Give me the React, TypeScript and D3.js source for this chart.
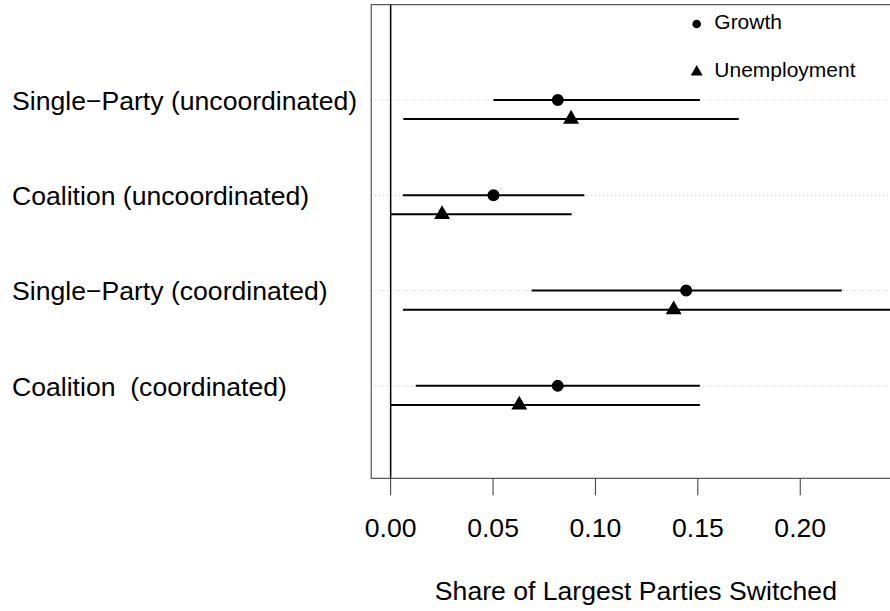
import React from 'react'
import * as d3 from 'd3'

// categories from top to bottom
const categories = [
  'Single\u2212Party (uncoordinated)',
  'Coalition (uncoordinated)',
  'Single\u2212Party (coordinated)',
  'Coalition  (coordinated)',
]
const positions = [4, 3, 2, 1]

const growthEst = [0.0816, 0.0502, 0.1443, 0.0816]
const growthLo = [0.0502, 0.0059, 0.0689, 0.0123]
const growthHi = [0.151, 0.0946, 0.2203, 0.151]

const unempEst = [0.0881, 0.0251, 0.1382, 0.0628]
const unempLo = [0.0062, 0.0, 0.006, 0.0]
const unempHi = [0.170, 0.0884, 0.27, 0.151]

const xTicks = [0, 0.05, 0.1, 0.15, 0.2]
const seriesNames = ['Growth', 'Unemployment']

const W = 890
const H = 611
const left = 371.2, right = 900.6, top = 4.7, bottom = 478.3
const font = 'Liberation Sans, Arial, Helvetica, sans-serif'
const fs = 26.6

export default function App() {
  const x = d3.scaleLinear().domain([-0.0095, 0.249]).range([left, right])
  const y = d3.scaleLinear().domain([0.03, 5]).range([bottom, top])
  const offset = 0.2

  const circle = d3.symbol(d3.symbolCircle, 113)()
  const tri = d3.symbol(d3.symbolTriangle, 110)()
  const legCircle = d3.symbol(d3.symbolCircle, 58)()
  const legTri = d3.symbol(d3.symbolTriangle, 62)()

  return (
    <svg width={W} height={H} style={{ position: 'absolute', left: 0, top: 0, background: '#fff' }}
      fontFamily={font}>
      <defs>
        <clipPath id="plot">
          <rect x={left} y={top} width={right - left} height={bottom - top} />
        </clipPath>
      </defs>

      {/* dotted guides */}
      {positions.map((p, i) => (
        <line key={'g' + i} x1={left} x2={right} y1={y(p)} y2={y(p)}
          stroke="#bbb" strokeWidth={1} strokeDasharray="1,3" />
      ))}

      {/* zero line */}
      <line x1={x(0)} x2={x(0)} y1={top} y2={bottom} stroke="#000" strokeWidth={1.5} />

      <g clipPath="url(#plot)">
        {positions.map((p, i) => (
          <g key={'s' + i}>
            <line x1={x(growthLo[i])} x2={x(growthHi[i])} y1={y(p)} y2={y(p)} stroke="#000" strokeWidth={2} />
            <line x1={x(unempLo[i])} x2={x(unempHi[i])} y1={y(p - offset)} y2={y(p - offset)} stroke="#000" strokeWidth={2} />
            <path d={circle!} transform={`translate(${x(growthEst[i])},${y(p)})`} fill="#000" />
            <path d={tri!} transform={`translate(${x(unempEst[i])},${y(p - offset)})`} fill="#000" />
          </g>
        ))}
      </g>

      {/* box */}
      <rect x={left} y={top} width={right - left} height={bottom - top} fill="none" stroke="#333" strokeWidth={1} />

      {/* x axis */}
      {xTicks.map((t) => (
        <g key={'t' + t}>
          <line x1={x(t)} x2={x(t)} y1={bottom} y2={bottom + 17} stroke="#333" strokeWidth={1} />
          <text x={x(t)} y={536.7} textAnchor="middle" fontSize={fs}>{d3.format('.2f')(t)}</text>
        </g>
      ))}
      <text x={(left + right) / 2} y={599.5} textAnchor="middle" fontSize={fs}>Share of Largest Parties Switched</text>

      {/* category labels */}
      {categories.map((c, i) => (
        <text key={'c' + i} x={12} y={y(positions[i]) + 9.7} fontSize={fs} style={{ whiteSpace: 'pre' }}>{c}</text>
      ))}

      {/* legend */}
      <path d={legCircle!} transform="translate(696.7,24)" fill="#000" />
      <text x={714.3} y={29} fontSize={21}>{seriesNames[0]}</text>
      <path d={legTri!} transform="translate(696.7,72)" fill="#000" />
      <text x={714.3} y={77} fontSize={21}>{seriesNames[1]}</text>
    </svg>
  )
}
